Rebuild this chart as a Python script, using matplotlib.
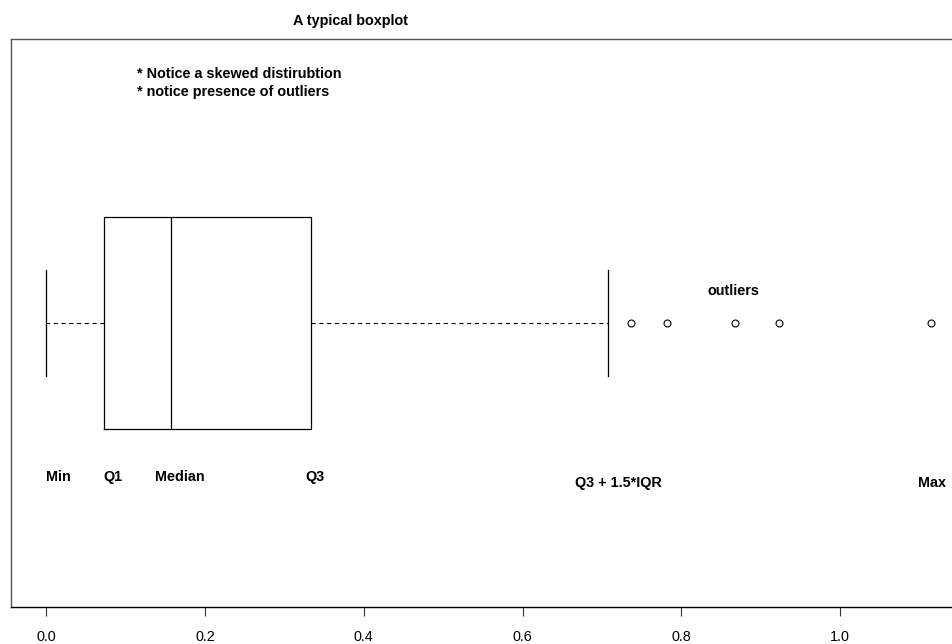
import matplotlib
matplotlib.use("Agg")
import matplotlib.pyplot as plt

# five-number summary
whisker_low = 0.0
q1 = 0.073
median = 0.157
q3 = 0.333
whisker_high = 0.707
outliers = [0.737, 0.782, 0.867, 0.923, 1.114]

tick_values = [0.0, 0.2, 0.4, 0.6, 0.8, 1.0]
tick_labels = ["0.0", "0.2", "0.4", "0.6", "0.8", "1.0"]

bottom_labels = ["Min", "Q1", "Median", "Q3"]
bottom_label_x = [0.0149, 0.0835, 0.1679, 0.3379]
right_labels = ["Q3 + 1.5*IQR", "Max"]
right_label_x = [0.7202, 1.1156]
notes = ["* Notice a skewed distirubtion", "* notice presence of outliers"]

plt.rcParams["font.family"] = ["Liberation Sans", "DejaVu Sans"]
plt.rcParams["lines.scale_dashes"] = False

W, H = 953, 644
fig = plt.figure(figsize=(W / 100, H / 100), dpi=100)
# frame runs off the right edge of the image, as in the original
ax = fig.add_axes([11 / W, 1 - 607 / H, (960 - 11) / W, (607 - 39) / H])
ax.set_xlim(-0.0443, 1.1509)
ax.set_ylim(0, 1)

stats = [{
    "whislo": whisker_low, "q1": q1, "med": median, "q3": q3,
    "whishi": whisker_high, "fliers": outliers,
}]
ax.bxp(stats, positions=[0.5], widths=[0.372], capwidths=[0.185],
       orientation="horizontal", manage_ticks=False,
       boxprops=dict(color="black", linewidth=0.9),
       medianprops=dict(color="black", linewidth=0.9),
       whiskerprops=dict(color="black", linewidth=0.8, linestyle=(0, (3.0, 2.6))),
       capprops=dict(color="black", linewidth=0.9),
       flierprops=dict(marker="o", markersize=5, markerfacecolor="none",
                       markeredgecolor="black", markeredgewidth=0.8))

fs = 10.4
for lab, x in zip(bottom_labels, bottom_label_x):
    ax.text(x, 0.229, lab, ha="center", va="center", fontsize=fs, fontweight="bold")
for lab, x in zip(right_labels, right_label_x):
    ax.text(x, 0.2183, lab, ha="center", va="center", fontsize=fs, fontweight="bold")
ax.text(0.865, 0.556, "outliers", ha="center", va="center", fontsize=fs, fontweight="bold")
ax.text(0.1144, 0.938, notes[0], ha="left", va="center", fontsize=fs, fontweight="bold")
ax.text(0.1144, 0.906, notes[1], ha="left", va="center", fontsize=fs, fontweight="bold")

fig.text(351 / W, 1 - 21 / H, "A typical boxplot", ha="center", va="center",
         fontsize=fs, fontweight="bold")

ax.set_xticks(tick_values)
ax.set_xticklabels(tick_labels, fontsize=fs)
ax.set_yticks([])
ax.tick_params(axis="x", length=6.5, width=0.8, pad=10, color="#333333")
for side in ["left", "top"]:
    ax.spines[side].set_color("#555555")
    ax.spines[side].set_linewidth(1.0)
ax.spines["bottom"].set_color("black")
ax.spines["bottom"].set_linewidth(1.0)
ax.spines["right"].set_visible(False)

fig.savefig("out.png", dpi=100)
